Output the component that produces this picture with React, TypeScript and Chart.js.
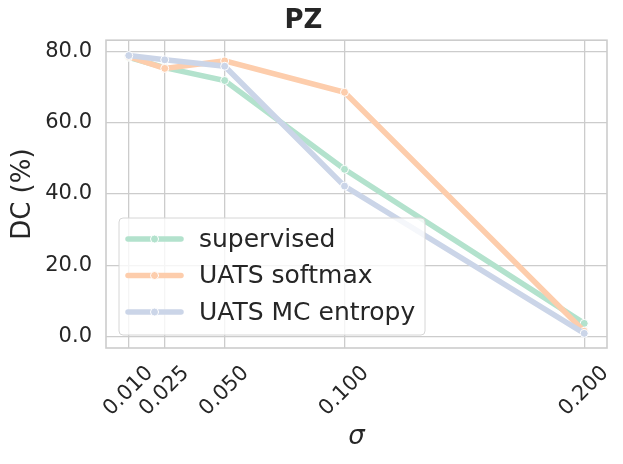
import { useEffect, useRef } from 'react';
import Chart from 'chart.js/auto';

const sigmas = [0.01, 0.025, 0.05, 0.1, 0.2];
const supervised = [78.3, 75.4, 71.8, 46.9, 3.7];
const uatsSoftmax = [78.5, 75.2, 77.3, 68.5, 1.5];
const uatsMcEntropy = [78.8, 77.6, 75.8, 42.2, 0.9];
const yTicks = [0, 20, 40, 60, 80];

const seriesNames = ['supervised', 'UATS softmax', 'UATS MC entropy'];
const seriesColors = ['#b3e2cd', '#fdcdac', '#cbd5e8'];

const FONT = "'DejaVu Sans', sans-serif";
const TEXT = '#262626';
const GRID = '#cccccc';

// matplotlib-style legend inside the plot, lower left
const legendBox = {
  id: 'legendBox',
  afterDatasetsDraw(chart: any) {
    const { ctx, chartArea } = chart;
    ctx.save();
    // frame of the axes
    ctx.strokeStyle = GRID;
    ctx.lineWidth = 1.6;
    ctx.strokeRect(chartArea.left, chartArea.top, chartArea.right - chartArea.left, chartArea.bottom - chartArea.top);

    const x = 119, y = 218, w = 306, h = 117, r = 4;
    ctx.beginPath();
    ctx.moveTo(x + r, y);
    ctx.arcTo(x + w, y, x + w, y + h, r);
    ctx.arcTo(x + w, y + h, x, y + h, r);
    ctx.arcTo(x, y + h, x, y, r);
    ctx.arcTo(x, y, x + w, y, r);
    ctx.closePath();
    ctx.fillStyle = 'rgba(255,255,255,0.8)';
    ctx.fill();
    ctx.strokeStyle = '#d6d6d6';
    ctx.lineWidth = 1;
    ctx.stroke();

    seriesNames.forEach((name, i) => {
      const rowY = 239 + i * 36.5;
      ctx.strokeStyle = seriesColors[i];
      ctx.lineWidth = 5.5;
      ctx.lineCap = 'round';
      ctx.beginPath();
      ctx.moveTo(128, rowY);
      ctx.lineTo(181, rowY);
      ctx.stroke();
      ctx.beginPath();
      ctx.arc(154.5, rowY, 4, 0, Math.PI * 2);
      ctx.fillStyle = seriesColors[i];
      ctx.fill();
      ctx.strokeStyle = '#ffffff';
      ctx.lineWidth = 1;
      ctx.stroke();
      ctx.fillStyle = TEXT;
      ctx.font = `25px ${FONT}`;
      ctx.textAlign = 'left';
      ctx.textBaseline = 'middle';
      ctx.fillText(name, 199, rowY + 1);
    });
    ctx.restore();
  },
};

export default function App() {
  const canvasRef = useRef<HTMLCanvasElement>(null);
  const chartRef = useRef<Chart | null>(null);

  useEffect(() => {
    document.body.style.margin = '0';
    if (!canvasRef.current) return;
    if (chartRef.current) chartRef.current.destroy();

    const values = [supervised, uatsSoftmax, uatsMcEntropy];

    chartRef.current = new Chart(canvasRef.current, {
      type: 'line',
      data: {
        datasets: values.map((vals, i) => ({
          label: seriesNames[i],
          data: sigmas.map((s, j) => ({ x: s, y: vals[j] })),
          borderColor: seriesColors[i],
          backgroundColor: seriesColors[i],
          borderWidth: 5.5,
          pointRadius: 4,
          pointBorderColor: '#ffffff',
          pointBorderWidth: 1,
          pointBackgroundColor: seriesColors[i],
          tension: 0,
          order: 2 - i,
        })),
      },
      options: {
        animation: false,
        responsive: false,
        layout: { padding: { left: 0, right: 16, top: 0, bottom: 0 } },
        plugins: {
          legend: { display: false },
          tooltip: { enabled: false },
          title: {
            display: true,
            text: 'PZ',
            color: TEXT,
            font: { family: FONT, size: 26, weight: 'bold', lineHeight: 1.2 },
            padding: { top: 6, bottom: 3 },
          },
        },
        scales: {
          x: {
            type: 'linear',
            min: 0.0005,
            max: 0.2095,
            afterBuildTicks: (scale: any) => {
              scale.ticks = sigmas.map(v => ({ value: v }));
            },
            afterFit: (scale: any) => {
              scale.height = 116;
            },
            ticks: {
              autoSkip: false,
              minRotation: 45,
              maxRotation: 45,
              padding: 13,
              labelOffset: 21,
              color: TEXT,
              font: { family: FONT, size: 21 },
              callback: (v: any) => Number(v).toFixed(3),
            },
            grid: { color: GRID, lineWidth: 1.3, drawTicks: false },
            border: { display: false },
            title: {
              display: true,
              text: 'σ',
              color: TEXT,
              font: { family: FONT, size: 26, style: 'italic', lineHeight: 1.2 },
              padding: { top: 0, bottom: 11 },
            },
          },
          y: {
            type: 'linear',
            min: -3.2,
            max: 83.1,
            afterBuildTicks: (scale: any) => {
              scale.ticks = yTicks.map(v => ({ value: v }));
            },
            afterFit: (scale: any) => {
              scale.width = 106;
            },
            ticks: {
              padding: 14,
              color: TEXT,
              font: { family: FONT, size: 21 },
              callback: (v: any) => Number(v).toFixed(1),
            },
            grid: { color: GRID, lineWidth: 1.3, drawTicks: false },
            border: { display: false },
            title: {
              display: true,
              text: 'DC (%)',
              color: TEXT,
              font: { family: FONT, size: 26, lineHeight: 1.2 },
              padding: { top: 8, bottom: 0 },
            },
          },
        },
      },
      plugins: [legendBox],
    });

    return () => {
      if (chartRef.current) {
        chartRef.current.destroy();
        chartRef.current = null;
      }
    };
  }, []);

  return (
    <div style={{ width: 623, height: 464, background: '#ffffff' }}>
      <canvas ref={canvasRef} width={623} height={464} style={{ width: 623, height: 464 }}></canvas>
    </div>
  );
}
